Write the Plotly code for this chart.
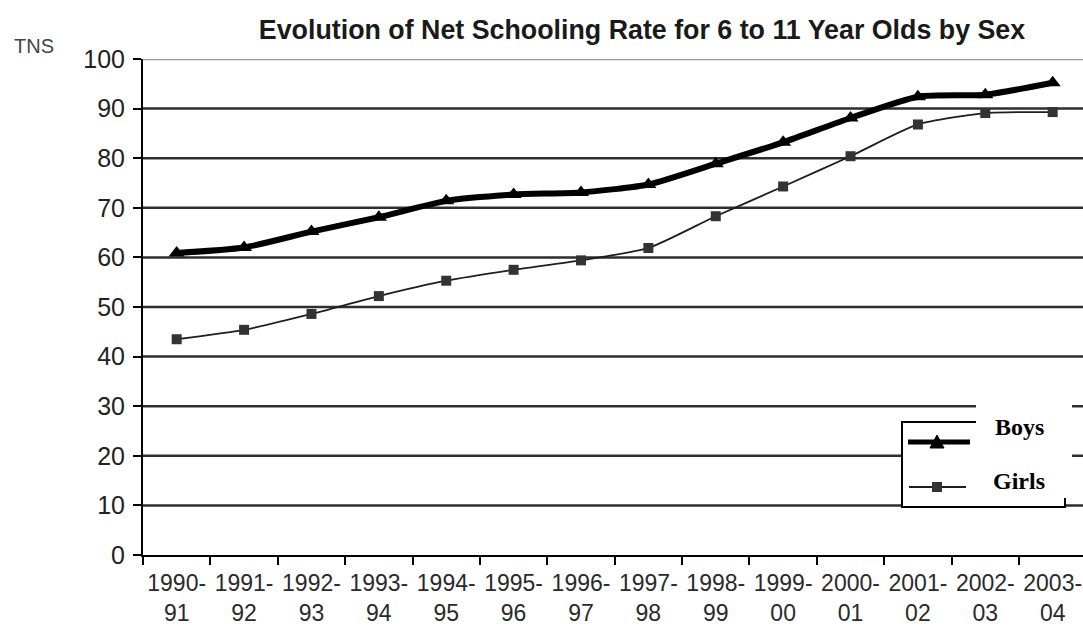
import plotly.graph_objects as go

# School years (category labels) and net schooling rates (%)
years = ["1990-<br>91", "1991-<br>92", "1992-<br>93", "1993-<br>94", "1994-<br>95",
         "1995-<br>96", "1996-<br>97", "1997-<br>98", "1998-<br>99", "1999-<br>00",
         "2000-<br>01", "2001-<br>02", "2002-<br>03", "2003-<br>04"]
boys = [60.9, 62.0, 65.2, 68.1, 71.4, 72.7, 73.1, 74.7, 78.9, 83.2, 88.1, 92.4, 92.8, 95.2]
girls = [43.5, 45.4, 48.6, 52.2, 55.3, 57.5, 59.4, 61.9, 68.3, 74.3, 80.4, 86.8, 89.1, 89.3]
y_ticks = list(range(0, 101, 10))

W, H = 1083, 631
L, R, T, B = 143, 0, 59, 76
PW, PH = W - L - R, H - T - B


def px(x):
    return (x - L) / PW


def py(y):
    return (H - B - y) / PH


fig = go.Figure()
fig.add_trace(go.Scatter(
    x=years, y=boys, mode="lines+markers", name="Boys",
    line=dict(color="#000000", width=6, shape="spline", smoothing=0.6),
    marker=dict(symbol="triangle-up", size=14, color="#000000"),
    showlegend=False,
))
fig.add_trace(go.Scatter(
    x=years, y=girls, mode="lines+markers", name="Girls",
    line=dict(color="#1e1e1e", width=1.8, shape="spline", smoothing=0.6),
    marker=dict(symbol="square", size=10, color="#333333"),
    showlegend=False,
))

shapes = []
# horizontal gridlines
for v in y_ticks[1:]:
    shapes.append(dict(type="line", xref="paper", yref="y", x0=0, x1=1, y0=v, y1=v,
                       line=dict(color="#9a9a9a" if v == 100 else "#2e2e2e", width=2.5),
                       layer="below"))

# legend frame
shapes.append(dict(type="rect", xref="paper", yref="paper",
                   x0=px(902), x1=px(1065), y0=py(507), y1=py(422),
                   line=dict(color="#000000", width=2), fillcolor="#ffffff"))
# legend samples
shapes.append(dict(type="line", xref="paper", yref="paper",
                   x0=px(908), x1=px(970), y0=py(442), y1=py(442),
                   line=dict(color="#000000", width=5)))
tx, ty = 937, 442
shapes.append(dict(type="path", xref="paper", yref="paper",
                   path=f"M {px(tx-7)} {py(ty+6)} L {px(tx+7)} {py(ty+6)} L {px(tx)} {py(ty-7)} Z",
                   fillcolor="#000000", line=dict(color="#000000", width=1)))
shapes.append(dict(type="line", xref="paper", yref="paper",
                   x0=px(909), x1=px(966), y0=py(487), y1=py(487),
                   line=dict(color="#1e1e1e", width=1.8)))
sx, sy = 937, 487
shapes.append(dict(type="rect", xref="paper", yref="paper",
                   x0=px(sx-5), x1=px(sx+5), y0=py(sy+5), y1=py(sy-5),
                   fillcolor="#333333", line=dict(width=0)))
# label panel over the legend
shapes.append(dict(type="rect", xref="paper", yref="paper",
                   x0=px(976), x1=px(1072), y0=py(498), y1=py(403),
                   fillcolor="#ffffff", line=dict(width=0)))

annotations = [
    dict(text="TNS", xref="paper", yref="paper", x=px(12), y=py(46),
         xanchor="left", yanchor="middle", showarrow=False,
         font=dict(family="Liberation Sans, Arial", size=20, color="#444444")),
    dict(text="<b>Boys</b>", xref="paper", yref="paper", x=px(1019), y=py(427),
         xanchor="center", yanchor="middle", showarrow=False,
         font=dict(family="Liberation Serif, Times New Roman", size=24, color="#000000")),
    dict(text="<b>Girls</b>", xref="paper", yref="paper", x=px(1019), y=py(481),
         xanchor="center", yanchor="middle", showarrow=False,
         font=dict(family="Liberation Serif, Times New Roman", size=24, color="#000000")),
]

fig.update_layout(
    width=W, height=H,
    margin=dict(l=L, r=R, t=T, b=B, autoexpand=False),
    paper_bgcolor="#ffffff", plot_bgcolor="#ffffff",
    title=dict(text="<b>Evolution of Net Schooling Rate for 6 to 11 Year Olds by Sex</b>",
               x=642 / W, xanchor="center", xref="container",
               y=1 - 30 / H, yanchor="middle", yref="container",
               font=dict(family="Liberation Sans, Arial", size=26.8, color="#1a1a1a")),
    shapes=shapes,
    annotations=annotations,
    xaxis=dict(
        type="category", range=[-0.5, 13.45], automargin=False, tickangle=0,
        showgrid=False, showline=True, linecolor="#000000", linewidth=2,
        ticks="outside", tickson="boundaries", ticklen=8, tickwidth=2, tickcolor="#000000",
        ticklabelstandoff=6,
        tickfont=dict(family="Liberation Sans, Arial", size=23, color="#2a2a2a"),
    ),
    yaxis=dict(
        range=[0, 100], tickvals=y_ticks, automargin=False,
        showgrid=False, zeroline=False, showline=True, linecolor="#000000", linewidth=2,
        ticks="outside", ticklen=8, tickwidth=2, tickcolor="#000000",
        ticklabelstandoff=3,
        tickfont=dict(family="Liberation Sans, Arial", size=25, color="#222222"),
    ),
)

fig.write_html("out.html")
